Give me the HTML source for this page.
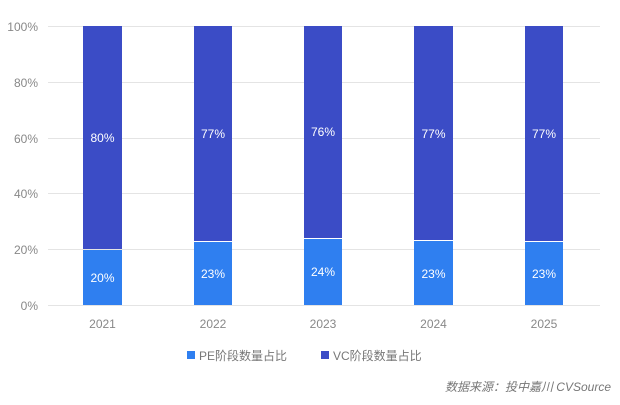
<!DOCTYPE html>
<html><head><meta charset="utf-8"><style>
body{margin:0;background:#fff;}
svg text{font-family:"Liberation Sans","Noto Sans CJK SC",sans-serif;}
</style></head><body>
<svg width="620" height="400" xmlns="http://www.w3.org/2000/svg">
<g stroke="#e4e4e4" stroke-width="1">
<line x1="48" x2="600" y1="26.5" y2="26.5"/>
<line x1="48" x2="600" y1="82.5" y2="82.5"/>
<line x1="48" x2="600" y1="138.5" y2="138.5"/>
<line x1="48" x2="600" y1="193.5" y2="193.5"/>
<line x1="48" x2="600" y1="249.5" y2="249.5"/>
<line x1="48" x2="600" y1="305.5" y2="305.5"/>
</g>
<g fill="#888" font-size="12" text-anchor="end">
<text x="38" y="31">100%</text><text x="38" y="87">80%</text><text x="38" y="143">60%</text>
<text x="38" y="198">40%</text><text x="38" y="254">20%</text><text x="38" y="310">0%</text>
</g>
<g>
<rect x="83" y="26" width="39" height="223" fill="#3b4cc6"/><rect x="83" y="250" width="39" height="55" fill="#2f7ff0"/>
<rect x="194" y="26" width="38" height="215" fill="#3b4cc6"/><rect x="194" y="242" width="38" height="63" fill="#2f7ff0"/>
<rect x="304" y="26" width="38" height="212" fill="#3b4cc6"/><rect x="304" y="239" width="38" height="66" fill="#2f7ff0"/>
<rect x="414" y="26" width="39" height="214" fill="#3b4cc6"/><rect x="414" y="241" width="39" height="64" fill="#2f7ff0"/>
<rect x="525" y="26" width="38" height="215" fill="#3b4cc6"/><rect x="525" y="242" width="38" height="63" fill="#2f7ff0"/>
</g>
<g fill="#fff" font-size="12" text-anchor="middle">
<text x="102.5" y="142">80%</text><text x="102.5" y="282">20%</text>
<text x="213" y="138">77%</text><text x="213" y="278">23%</text>
<text x="323" y="136">76%</text><text x="323" y="276">24%</text>
<text x="433.5" y="138">77%</text><text x="433.5" y="278">23%</text>
<text x="544" y="138">77%</text><text x="544" y="278">23%</text>
</g>
<g fill="#888" font-size="12" text-anchor="middle">
<text x="102.5" y="328">2021</text><text x="213" y="328">2022</text><text x="323" y="328">2023</text>
<text x="433.5" y="328">2024</text><text x="544" y="328">2025</text>
</g>
<rect x="187" y="351" width="8" height="8" fill="#2f7ff0"/>
<text x="199" y="360" font-size="12" fill="#777">PE阶段数量占比</text>
<rect x="321" y="351" width="8" height="8" fill="#3b4cc6"/>
<text x="333" y="360" font-size="12" fill="#777">VC阶段数量占比</text>
<text x="611" y="391" font-size="12" fill="#777" text-anchor="end" font-style="italic">数据来源：投中嘉川 CVSource</text>
</svg>
</body></html>
